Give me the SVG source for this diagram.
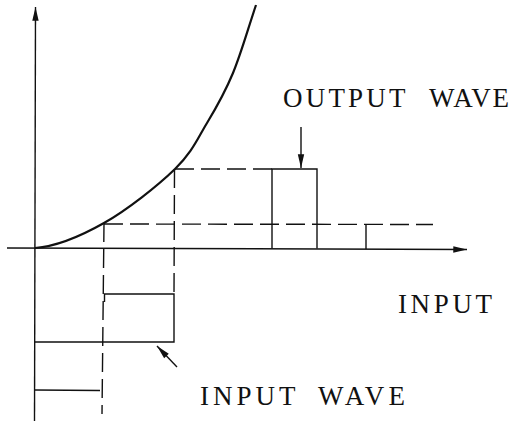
<svg xmlns="http://www.w3.org/2000/svg" width="516" height="424" viewBox="0 0 516 424">
<style>
.ln{fill:none;stroke:#111;stroke-width:1.4;stroke-linecap:butt}
.ds{fill:none;stroke:#111;stroke-width:1.4;stroke-dasharray:19 7}
.cv{fill:none;stroke:#111;stroke-width:2.2}
.lb{font-family:"Liberation Serif","Times New Roman",serif;font-size:27px;fill:#111}
</style>
<defs>
<marker id="ah" markerUnits="userSpaceOnUse" markerWidth="16" markerHeight="10" viewBox="-13 -4 14 8" refX="0" refY="0" orient="auto">
<path d="M0,0 L-12,-2.8 L-12,2.8 Z" fill="#111"/>
</marker>
</defs>
<rect width="516" height="424" fill="#fff"/>
<g id="axes">
<line class="ln" x1="34.5" y1="421" x2="35.5" y2="7" marker-end="url(#ah)"/>
<line class="ln" x1="7" y1="248" x2="467" y2="249.5" marker-end="url(#ah)"/>
</g>
<g id="curve">
<path class="cv" d="M35,248 C58,246.3 80.7,236.2 104,223 C127.3,209.8 157.8,185.7 175,169 C192.2,152.3 197.3,139 207,123 C216.7,107 224.8,92.7 233,73 C241.2,53.3 248.3,27.7 256,5"/>
</g>
<g id="guides">
<line class="ds" x1="104" y1="223" x2="102" y2="414"/>
<line class="ds" x1="174.5" y1="169" x2="174" y2="294"/>
<line class="ds" x1="175" y1="169" x2="272" y2="169"/>
<line class="ds" x1="104" y1="224" x2="433" y2="224.5"/>
</g>
<g id="output-wave">
<polyline class="ln" points="272,248.5 272,169 317,169 317,248.5"/>
<line class="ln" x1="366" y1="224.5" x2="366" y2="249"/>
</g>
<g id="input-wave">
<polyline class="ln" points="104.5,302 104.5,294 174,294 174,342 35,342"/>
<line class="ln" x1="35" y1="390" x2="100" y2="390.5"/>
</g>
<g id="connectors">
<line class="ln" x1="301" y1="127" x2="301" y2="168" marker-end="url(#ah)"/>
<line class="ln" x1="177" y1="367" x2="157" y2="346" marker-end="url(#ah)"/>
</g>
<g id="label-output-wave"><text class="lb" y="107"><tspan x="283" textLength="122" lengthAdjust="spacing">OUTPUT</tspan> <tspan x="429" textLength="80" lengthAdjust="spacing">WAVE</tspan></text></g>
<g id="label-input"><text class="lb" y="313"><tspan x="398" textLength="94" lengthAdjust="spacing">INPUT</tspan></text></g>
<g id="label-input-wave"><text class="lb" y="405"><tspan x="200" textLength="95" lengthAdjust="spacing">INPUT</tspan> <tspan x="318" textLength="87" lengthAdjust="spacing">WAVE</tspan></text></g>
</svg>
